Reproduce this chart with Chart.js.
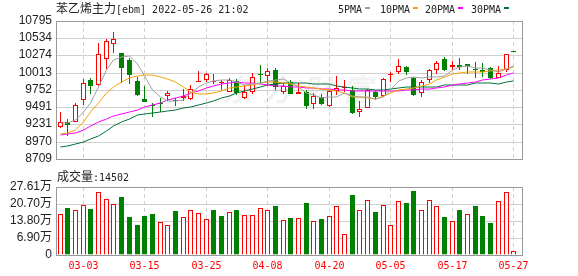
<!DOCTYPE html>
<html>
<head>
<meta charset="utf-8">
<script src="https://cdn.jsdelivr.net/npm/chart.js@4.4.1/dist/chart.umd.min.js"></script>
<style>
  html, body { margin: 0; padding: 0; background: #fff; }
  #wrap { position: relative; width: 578px; height: 276px; overflow: hidden; background: #fff; }
  #wrap canvas { position: absolute; left: 0; }
  #priceChart { top: 0; }
  #volChart { top: 170px; }
</style>
</head>
<body>
<div id="wrap">
  <canvas id="priceChart" width="578" height="170"></canvas>
  <canvas id="volChart" width="578" height="106"></canvas>
</div>
<script>
// --- данные (交易日, OHLC, 成交量 в 万) ---
const dates = ['02-28','03-01','03-02','03-03','03-04','03-07','03-08','03-09','03-10','03-11',
               '03-14','03-15','03-16','03-17','03-18','03-21','03-22','03-23','03-24','03-25',
               '03-28','03-29','03-30','03-31','04-01','04-06','04-07','04-08','04-11','04-12',
               '04-13','04-14','04-15','04-18','04-19','04-20','04-21','04-22','04-25','04-26',
               '04-27','04-28','04-29','05-05','05-06','05-09','05-10','05-11','05-12','05-13',
               '05-16','05-17','05-18','05-19','05-20','05-23','05-24','05-25','05-26','05-27'];

const opens  = [9187,9264,9269,9597,9901,9819,10215,10447,10307,10206,
                9887,9612,9530,9550,9665,9600,9626,9607,9868,9900,
                9868,9860,9723,9892,9626,9723,9988,9964,10046,9723,
                9877,9684,9718,9539,9650,9515,9730,9775,9758,9418,
                9476,9723,9660,9972,10022,10104,9935,9708,9901,10056,
                10215,10094,10128,10148,10075,10051,10085,9935,10046,10340];
const highs  = [9410,9307,9554,9916,9925,10457,10529,10626,10315,10230,
                9950,9805,9555,9635,9742,9636,9771,9829,10040,10012,
                9988,9906,9925,9916,9819,10002,10133,10080,10085,9858,
                9901,9853,9756,9708,9684,9756,9955,9903,9805,9578,
                9771,9742,9935,10022,10215,10119,9950,9897,10070,10191,
                10254,10191,10239,10150,10176,10162,10095,10119,10302,10345];
const lows   = [9180,9050,9259,9530,9684,9810,10061,10312,9853,9843,
                9655,9573,9345,9410,9578,9515,9578,9597,9868,9877,
                9843,9747,9713,9674,9616,9684,9843,9829,9747,9684,
                9684,9684,9467,9467,9529,9491,9680,9715,9385,9346,
                9476,9597,9645,9877,9998,9983,9660,9645,9853,9998,
                10036,10046,10046,9998,9925,9945,9916,9925,10022,10325];
const closes = [9264,9216,9530,9863,9810,10288,10495,10519,10080,9974,
                9670,9573,9510,9535,9699,9585,9665,9766,9886,9988,
                9882,9877,9906,9698,9723,9954,9973,10036,9795,9805,
                9684,9723,9515,9660,9539,9742,9785,9795,9405,9467,
                9756,9645,9916,9990,10119,10022,9670,9868,10046,10157,
                10046,10128,10104,10119,10060,10017,9925,10012,10302,10330];
const volumes = [16.45,19.28,18.47,20.49,18.61,25.75,22.92,20.9,23.45,15.24,
                 12.14,15.78,16.59,13.22,12.0,17.8,15.24,18.47,16.86,14.43,
                 18.2,15.78,17.26,18.2,16.05,16.05,19.28,18.07,19.82,14.16,
                 14.97,14.83,21.03,13.76,14.43,15.65,20.09,8.37,24.26,18.07,
                 22.51,17.4,20.49,12.0,22.11,21.03,25.88,18.47,22.51,20.09,
                 15.37,13.62,18.2,16.45,19.82,15.78,12.95,22.11,25.75,1.4502];

// скользящие средние
const ma5  = [9249,9250,9300,9420,9555,9800,10060,10210,10255,10265,
              10140,9955,9750,9645,9590,9582,9605,9700,9790,9850,
              9880,9895,9900,9868,9825,9835,9855,9880,9900,9910,
              9860,9800,9705,9675,9630,9640,9650,9700,9655,9640,
              9640,9615,9640,9755,9885,9935,9945,9935,9945,9952,
              9960,10048,10095,10110,10090,10085,10048,10030,10065,10118];
const ma10 = [9085,9100,9148,9269,9414,9558,9703,9800,9870,9930,
              9965,9985,9975,9950,9915,9870,9790,9715,9690,9688,
              9700,9730,9775,9795,9805,9830,9860,9875,9865,9850,
              9835,9815,9795,9778,9760,9745,9730,9705,9650,9638,
              9630,9620,9660,9705,9750,9770,9778,9805,9840,9900,
              9950,9995,10012,10022,10022,10022,10032,10046,10070,10094];
const ma20 = [9075,9082,9100,9148,9210,9265,9307,9350,9389,9423,
              9452,9486,9520,9558,9592,9631,9665,9700,9740,9780,
              9815,9845,9862,9868,9860,9850,9840,9828,9818,9810,
              9800,9792,9784,9776,9768,9760,9752,9746,9740,9737,
              9735,9733,9733,9736,9742,9750,9757,9762,9766,9775,
              9800,9820,9838,9853,9875,9895,9915,9935,9972,10012];
const ma30 = [8882,8910,8940,8969,9003,9061,9133,9211,9269,9317,
              9365,9389,9404,9423,9438,9455,9475,9500,9525,9555,
              9585,9625,9660,9700,9735,9768,9800,9830,9845,9852,
              9856,9855,9850,9845,9840,9834,9815,9800,9785,9770,
              9760,9755,9755,9765,9780,9790,9790,9795,9795,9800,
              9819,9819,9829,9832,9853,9853,9853,9843,9867,9887];

const priceTicks = [8709, 8970, 9231, 9491, 9752, 10013, 10274, 10534, 10795];
const volTicks = [0, 6.90, 13.80, 20.70, 27.61];
const xTickLabels = ['03-03','03-15','03-25','04-08','04-20','05-05','05-17','05-27'];

const titleName = '苯乙烯主力';
const titleInfo = '[ebm] 2022-05-26 21:02';
const volName = '成交量';
const watermark = '东方财富';

// --- стили ---
const RED = '#ff0000';
const GREEN = '#008000';
const GRID = '#d0d0d0';
const FRAME = '#999999';
const MONO = '"DejaVu Sans Mono", monospace';
const SANS = '"Liberation Sans", "Noto Sans CJK SC", sans-serif';
const CJK = '"Noto Sans CJK SC", sans-serif';

const X_MIN = -0.54, X_MAX = 60.08;
const tickIdx = xTickLabels.map(l => dates.indexOf(l));

const candleUp = closes.map((c, i) => c > opens[i]);
const volUp = closes.map((c, i) => i === 0 ? c >= opens[i] : c >= closes[i - 1]);

// линейная шкала с привязкой к пикселям, чтобы свечи были чёткими
const BaseLinear = Chart.LinearScale || Chart.registry.getScale('linear');
class PixelLinearScale extends BaseLinear {
    getPixelForValue(value) {
        const p = super.getPixelForValue(value);
        if (!isFinite(p)) return p;
        return this.isHorizontal() ? Math.floor(p) + 0.5 : Math.round(p);
    }
}
PixelLinearScale.id = 'pixelLinear';
PixelLinearScale.defaults = BaseLinear.defaults;
Chart.register(PixelLinearScale);

function maSet(label, arr, color) {
    return {
        type: 'line',
        label: label,
        data: arr.map((v, i) => ({ x: i, y: v })),
        borderColor: color,
        backgroundColor: color,
        borderWidth: 1,
        pointRadius: 0,
        tension: 0,
        order: 0
    };
}

function drawFrame(ctx, a) {
    ctx.save();
    ctx.strokeStyle = FRAME;
    ctx.lineWidth = 1;
    ctx.strokeRect(Math.round(a.left) + 0.5, Math.round(a.top) + 0.5,
                   Math.round(a.right - a.left), Math.round(a.bottom - a.top));
    ctx.restore();
}

// ось X без offset (иначе Chart.js раздвигает диапазон)
const xScaleBase = {
    type: 'pixelLinear',
    min: X_MIN,
    max: X_MAX,
    offset: false,
    afterBuildTicks: s => { s.ticks = tickIdx.map(v => ({ value: v })); },
    grid: { color: GRID, drawTicks: false, offset: false },
    border: { display: false, dash: [4, 3] }
};

// --- график цены ---
const priceDeco = {
    id: 'priceDeco',
    beforeDatasetsDraw(chart) {
        const ctx = chart.ctx;
        ctx.save();
        ctx.fillStyle = 'rgba(0,0,0,0.055)';
        ctx.font = 'italic bold 30px ' + CJK;
        ctx.textBaseline = 'alphabetic';
        [...watermark].forEach((ch, k) => ctx.fillText(ch, 222 + k * 40, 101));
        ctx.restore();
        drawFrame(ctx, chart.chartArea);
    },
    afterDraw(chart) {
        const ctx = chart.ctx;
        ctx.save();
        ctx.fillStyle = '#222';
        ctx.textBaseline = 'alphabetic';
        ctx.font = '12px ' + CJK;
        ctx.fillText(titleName, 56, 12.5);
        const w = ctx.measureText(titleName).width;
        ctx.font = '10px ' + MONO;
        ctx.fillText(titleInfo, 56 + w, 12.5);

        // легенда: подпись, потом цветная метка
        const legendX = [338, 380, 425, 471];
        chart.data.datasets.filter(d => d.type === 'line').forEach((d, k) => {
            ctx.fillStyle = '#222';
            ctx.fillText(d.label, legendX[k], 12.5);
            const tw = ctx.measureText(d.label).width;
            ctx.fillStyle = d.borderColor;
            ctx.fillRect(Math.round(legendX[k] + tw + 3), 7, 5, 2);
        });
        ctx.restore();
    }
};

new Chart(document.getElementById('priceChart'), {
    type: 'bar',
    data: {
        datasets: [
            maSet('5PMA', ma5, '#a0a0a0'),
            maSet('10PMA', ma10, '#f5a300'),
            maSet('20PMA', ma20, '#ff00ff'),
            maSet('30PMA', ma30, '#00703a'),
            {
                label: 'body',
                data: dates.map((d, i) => ({ x: i, y: [opens[i], closes[i]] })),
                backgroundColor: candleUp.map(u => u ? '#ffffff' : GREEN),
                borderColor: candleUp.map(u => u ? RED : GREEN),
                borderWidth: 1,
                borderSkipped: false,
                barThickness: 5,
                grouped: false,
                inflateAmount: 0,
                order: 2
            },
            {
                label: 'wick',
                data: dates.map((d, i) => ({ x: i, y: [lows[i], highs[i]] })),
                backgroundColor: candleUp.map(u => u ? RED : GREEN),
                borderWidth: 0,
                barThickness: 1,
                grouped: false,
                inflateAmount: 0,
                order: 3
            }
        ]
    },
    options: {
        responsive: false,
        animation: false,
        events: [],
        layout: { padding: { top: 21, right: 56, bottom: 5, left: 0 } },
        plugins: { legend: { display: false }, tooltip: { enabled: false } },
        scales: {
            x: Object.assign({}, xScaleBase, {
                afterFit: s => { s.height = 0; },
                ticks: { display: false }
            }),
            y: {
                type: 'pixelLinear',
                min: priceTicks[0],
                max: priceTicks[priceTicks.length - 1],
                afterBuildTicks: s => { s.ticks = priceTicks.map(v => ({ value: v })); },
                afterFit: s => { s.width = 56; },
                ticks: {
                    font: { family: SANS, size: 12 },
                    color: '#222',
                    padding: 4,
                    autoSkip: false,
                    callback: v => String(v)
                },
                grid: { color: GRID, drawTicks: false },
                border: { display: false }
            }
        }
    },
    plugins: [priceDeco]
});

// --- объём ---
const volDeco = {
    id: 'volDeco',
    beforeDatasetsDraw(chart) {
        drawFrame(chart.ctx, chart.chartArea);
    },
    afterDraw(chart) {
        const ctx = chart.ctx;
        ctx.save();
        ctx.fillStyle = '#222';
        ctx.textBaseline = 'alphabetic';
        ctx.font = '12px ' + CJK;
        ctx.fillText(volName, 57, 11);
        const w = ctx.measureText(volName).width;
        ctx.font = '10px ' + MONO;
        const last = Math.round(volumes[volumes.length - 1] * 10000);
        ctx.fillText(':' + last, 57 + w, 11);
        ctx.restore();
    }
};

new Chart(document.getElementById('volChart'), {
    type: 'bar',
    data: {
        datasets: [{
            label: 'vol',
            data: volumes.map((v, i) => ({ x: i, y: v })),
            backgroundColor: volUp.map(u => u ? '#ffffff' : GREEN),
            borderColor: volUp.map(u => u ? RED : GREEN),
            borderWidth: 1,
            barThickness: 5,
            inflateAmount: 0
        }]
    },
    options: {
        responsive: false,
        animation: false,
        events: [],
        layout: { padding: { top: 17, right: 56, bottom: 0, left: 0 } },
        plugins: { legend: { display: false }, tooltip: { enabled: false } },
        scales: {
            x: Object.assign({}, xScaleBase, {
                afterFit: s => { s.height = 21; },
                ticks: {
                    font: { family: MONO, size: 10 },
                    color: RED,
                    padding: 5,
                    maxRotation: 0,
                    autoSkip: false,
                    callback: v => dates[v]
                }
            }),
            y: {
                type: 'pixelLinear',
                min: 0,
                max: volTicks[volTicks.length - 1],
                afterBuildTicks: s => { s.ticks = volTicks.map(v => ({ value: v })); },
                afterFit: s => { s.width = 56; },
                ticks: {
                    font: { family: SANS, size: 12 },
                    color: '#222',
                    padding: 4,
                    autoSkip: false,
                    callback: v => v === 0 ? '0' : v.toFixed(2) + '万'
                },
                grid: { color: GRID, drawTicks: false },
                border: { display: false }
            }
        }
    },
    plugins: [volDeco]
});
</script>
</body>
</html>
